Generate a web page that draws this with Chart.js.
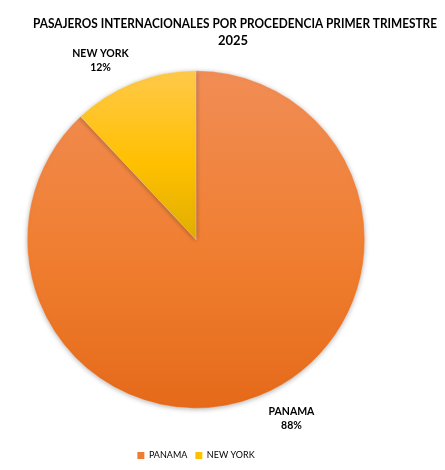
<!DOCTYPE html>
<html>
<head>
<meta charset="utf-8">
<script src="https://cdn.jsdelivr.net/npm/chart.js@4"></script>
<style>
  body { margin: 0; background: #fff; }
  #wrap { width: 445px; height: 470px; position: relative; }
</style>
</head>
<body>
<div id="wrap"><canvas id="pieChart"></canvas></div>
<script>
// datos del gráfico
const categorias = ['PANAMA', 'NEW YORK'];
const porcentajes = [88, 12];
const tituloLineas = ['PASAJEROS INTERNACIONALES POR PROCEDENCIA PRIMER TRIMESTRE', '2025'];

// colores (arriba / medio / abajo del degradado)
const coloresArriba = ['#F18D55', '#FFC94A'];
const coloresMedio = ['#F07E30', '#FFC000'];
const coloresAbajo = ['#E56A1A', '#E0AE00'];
const coloresLeyenda = ['#ED7D31', '#FFC000'];

const fuente = 'Lato, "Open Sans", sans-serif';

function degradado(context) {
    const chart = context.chart;
    const area = chart.chartArea;
    if (!area) return coloresLeyenda[context.dataIndex];
    const i = context.dataIndex;
    const cy = (area.top + area.bottom) / 2;
    const r = Math.min(area.width, area.height) / 2;
    // la rebanada amarilla va del borde al centro, la naranja cubre todo el círculo
    const y1 = i === 1 ? cy : cy + r;
    const g = chart.ctx.createLinearGradient(0, cy - r, 0, y1);
    g.addColorStop(0, coloresArriba[i]);
    g.addColorStop(0.55, coloresMedio[i]);
    g.addColorStop(1, coloresAbajo[i]);
    return g;
}

// título dibujado a mano para centrarlo como en el original
const tituloPlugin = {
    id: 'tituloPlugin',
    afterDraw(chart) {
        const ctx = chart.ctx;
        ctx.save();
        ctx.fillStyle = '#000';
        ctx.font = 'bold 13px ' + fuente;
        ctx.textAlign = 'center';
        ctx.textBaseline = 'middle';
        ctx.fillText(tituloLineas[0], 235, 24, 404);
        ctx.fillText(tituloLineas[1], 233, 41);
        ctx.restore();
    }
};

// etiquetas fuera del pastel (nombre + porcentaje)
const etiquetasPlugin = {
    id: 'etiquetasPlugin',
    afterDatasetsDraw(chart) {
        const ctx = chart.ctx;
        const meta = chart.getDatasetMeta(0);
        ctx.save();
        ctx.fillStyle = '#000';
        ctx.font = 'bold 10.5px ' + fuente;
        ctx.textAlign = 'center';
        ctx.textBaseline = 'middle';
        meta.data.forEach((arc, i) => {
            const p = arc.getProps(['x', 'y', 'startAngle', 'endAngle', 'outerRadius'], true);
            const medio = (p.startAngle + p.endAngle) / 2 - 6.5 * Math.PI / 180;
            const d = p.outerRadius + 34;
            const x = p.x + Math.cos(medio) * d;
            const y = p.y + Math.sin(medio) * d;
            ctx.fillText(categorias[i], x, y - 7);
            ctx.fillText(porcentajes[i] + '%', x, y + 7);
        });
        ctx.restore();
    }
};

// sombra suave bajo el pastel
const sombraPlugin = {
    id: 'sombraPlugin',
    beforeDatasetsDraw(chart) {
        const ctx = chart.ctx;
        ctx.save();
        ctx.shadowColor = 'rgba(0,0,0,0.3)';
        ctx.shadowBlur = 5;
        ctx.shadowOffsetY = 1;
    },
    afterDatasetsDraw(chart) {
        chart.ctx.restore();
    }
};

const ctx = document.getElementById('pieChart').getContext('2d');
new Chart(ctx, {
    type: 'pie',
    data: {
        labels: categorias,
        datasets: [{
            data: porcentajes,
            backgroundColor: degradado,
            borderColor: 'rgba(255,255,255,0.35)',
            borderWidth: 0.6
        }]
    },
    options: {
        responsive: true,
        maintainAspectRatio: false,
        animation: false,
        layout: { padding: { top: 36, left: 27, right: 80, bottom: 0 } },
        plugins: {
            title: { display: false },
            tooltip: { enabled: false },
            legend: {
                position: 'bottom',
                labels: {
                    boxWidth: 7,
                    boxHeight: 7,
                    padding: 8,
                    color: '#595959',
                    font: { size: 9, family: fuente },
                    generateLabels(chart) {
                        return categorias.map((c, i) => ({
                            text: c,
                            fillStyle: coloresLeyenda[i],
                            strokeStyle: coloresLeyenda[i],
                            lineWidth: 0,
                            index: i
                        }));
                    }
                }
            }
        }
    },
    plugins: [sombraPlugin, etiquetasPlugin, tituloPlugin]
});
</script>
</body>
</html>
